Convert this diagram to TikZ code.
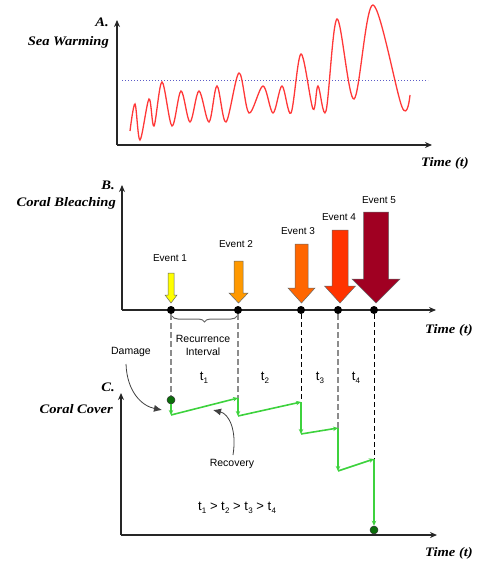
\documentclass[tikz,border=0pt]{standalone}
\usepackage{fontspec}
\setmainfont{Liberation Sans}
\newfontfamily\labfont[FakeStretch=1.12]{Liberation Serif}
\usetikzlibrary{arrows.meta,decorations.pathreplacing}
\definecolor{grn}{HTML}{3DD23D}
\definecolor{dgrn}{HTML}{0B6E0B}
\definecolor{ev1}{HTML}{FFFF00}
\definecolor{ev2}{HTML}{FF9900}
\definecolor{ev3}{HTML}{FF6600}
\definecolor{ev4}{HTML}{FF3300}
\definecolor{ev5}{HTML}{A00022}
\definecolor{wave}{HTML}{FF3838}
\definecolor{thr}{HTML}{5C5CC8}
\newcommand\evarrow[7]{%
  \filldraw[fill=#7, draw=black!60, line width=0.5pt]
    (#1-#2,#3) -- (#1+#2,#3) -- (#1+#2,#4) -- (#1+#5,#4) -- (#1,#6)
    -- (#1-#5,#4) -- (#1-#2,#4) -- cycle;}
\newcommand\tsb[1]{t\kern0.3pt\raisebox{-2.5pt}{\fontsize{8}{9}\selectfont #1}}
\begin{document}
\begin{tikzpicture}[x=1pt,y=-1pt,
  axis/.style={line width=1.3pt, draw=black!85, -{Stealth[length=7pt,width=6pt]}},
  axlab/.style={font=\labfont\bfseries\itshape\fontsize{13}{15}\selectfont, inner sep=0},
  evlab/.style={font=\fontsize{10}{12}\selectfont, inner sep=0},
  smlab/.style={font=\fontsize{10.5}{12}\selectfont, inner sep=0, align=center},
  tlab/.style={font=\fontsize{13}{15}\selectfont, inner sep=0},
  evdot/.style={circle, fill=black, inner sep=0, minimum size=8pt},
  gdot/.style={circle, fill=dgrn, draw=black!80, line width=0.5pt, inner sep=0, minimum size=8pt},
  gline/.style={draw=grn, line width=1.6pt, -{Stealth[length=5pt,width=4.5pt]}},
  dashg/.style={draw=black!45, line width=1.2pt, dash pattern=on 6pt off 3pt},
  dashk/.style={draw=black, line width=0.9pt, dash pattern=on 5pt off 3pt},
  curv/.style={draw=black!75, line width=0.8pt, -{Latex[length=8pt,width=7pt]}}
]
\useasboundingbox (0,0) rectangle (480,561);

% ---------- Panel A ----------
\coordinate (oA) at (117,145);
\coordinate (yA) at (117,20);
\coordinate (xA) at (432,145);
\draw[axis] (oA) -- (yA);
\draw[axis] (oA) -- (xA);
\node[axlab, anchor=east] (lA) at (109,22) {A.};
\node[axlab, anchor=east] (swA) at (109,42) {Sea Warming};
\node[axlab] (tA) at (445,163) {Time (t)};
\coordinate (thrL) at (122,81);
\coordinate (thrR) at (428,81);
\draw[thr, line width=1pt, dotted] (thrL) -- (thrR);
\draw[wave, line width=1.3pt] plot[smooth, tension=0.55] coordinates {
 (130,131) (135,104) (140,140) (149,99) (154,126) (162,82) (172,126)
 (181,91) (190,122) (199,91) (209,122) (217,86) (226,122) (239,73)
 (249,113) (263,86) (273,113) (282,86) (291,113) (301,54) (313,109)
 (318,86) (326,111) (337,19) (354,99) (373,5) (402,107) (410,95)};

% ---------- Panel B ----------
\coordinate (oB) at (122,310);
\coordinate (yB) at (122,185);
\coordinate (xB) at (436,310);
\draw[axis] (oB) -- (yB);
\draw[axis] (oB) -- (xB);
\node[axlab, anchor=east] (lB) at (115,185) {B.};
\node[axlab, anchor=east] (cbB) at (116,203) {Coral Bleaching};
\node[axlab] (tB) at (449,330) {Time (t)};

\evarrow{171}{3}{273}{295}{6}{303}{ev1}
\evarrow{238.5}{4.5}{261}{293}{9.5}{303}{ev2}
\evarrow{301.5}{6.5}{244}{288}{13.5}{303}{ev3}
\evarrow{340}{8}{230}{286}{15.5}{303}{ev4}
\evarrow{376}{12.5}{212}{279}{24}{303}{ev5}
\node[evlab] (e1) at (170,258) {Event 1};
\node[evlab] (e2) at (236,244) {Event 2};
\node[evlab] (e3) at (298,231) {Event 3};
\node[evlab] (e4) at (339,217) {Event 4};
\node[evlab] (e5) at (379,200) {Event 5};

\node[evdot] (d1) at (171,310) {};
\node[evdot] (d2) at (238,310) {};
\node[evdot] (d3) at (301,310) {};
\node[evdot] (d4) at (338,310) {};
\node[evdot] (d5) at (374,310) {};

\coordinate (bl) at (172,316);
\coordinate (br) at (237,316);
\draw[black!60, line width=1pt, decorate, decoration={brace, mirror, amplitude=6pt}] (bl) -- (br);
\node[smlab] (rec) at (203,345) {Recurrence\\[1pt]Interval};

% ---------- Panel C ----------
\coordinate (oC) at (121,535);
\coordinate (yC) at (121,393);
\coordinate (xC) at (437,535);
\draw[axis] (oC) -- (yC);
\draw[axis] (oC) -- (xC);
\node[axlab, anchor=east] (lC) at (115,387) {C.};
\node[axlab, anchor=east] (ccC) at (113,409) {Coral Cover};
\node[axlab] (tC) at (449,553) {Time (t)};

\node[gdot] (g1) at (171,400) {};
\node[gdot] (g2) at (374,530) {};
\coordinate (c2) at (238,398);
\coordinate (c3) at (301,402);
\coordinate (c4) at (338,428);
\coordinate (c5) at (374,459);
\coordinate (l1) at (171,415);
\coordinate (l2) at (238,416);
\coordinate (l3) at (301,434);
\coordinate (l4) at (338,471);

\draw[dashg] (d1) -- (g1);
\draw[dashg] (d2) -- (c2);
\draw[dashk] (d3) -- (c3);
\draw[dashg] (d4) -- (c4);
\draw[dashk] (d5) -- (c5);

\draw[gline] (g1) -- (l1);
\draw[gline] (l1) -- (c2);
\draw[gline] (c2) -- (l2);
\draw[gline] (l2) -- (c3);
\draw[gline] (c3) -- (l3);
\draw[gline] (l3) -- (c4);
\draw[gline] (c4) -- (l4);
\draw[gline] (l4) -- (c5);
\draw[gline] (c5) -- (g2);

\node[tlab] (t1) at (204,378) {\tsb{1}};
\node[tlab] (t2) at (265,378) {\tsb{2}};
\node[tlab] (t3) at (320,378) {\tsb{3}};
\node[tlab] (t4) at (356,378) {\tsb{4}};
\node[tlab] (ineq) at (237,508) {\tsb{1} > \tsb{2} > \tsb{3} > \tsb{4}};

\node[smlab] (dam) at (131,352) {Damage};
\coordinate (damtip) at (162,410);
\draw[curv] (126,364) .. controls (127,392) and (142,406) .. (damtip);
\node[smlab] (rcv) at (232,464) {Recovery};
\coordinate (rcvtip) at (213,410);
\draw[curv] (233,455) .. controls (237,430) and (229,414) .. (rcvtip);
\end{tikzpicture}
\end{document}
